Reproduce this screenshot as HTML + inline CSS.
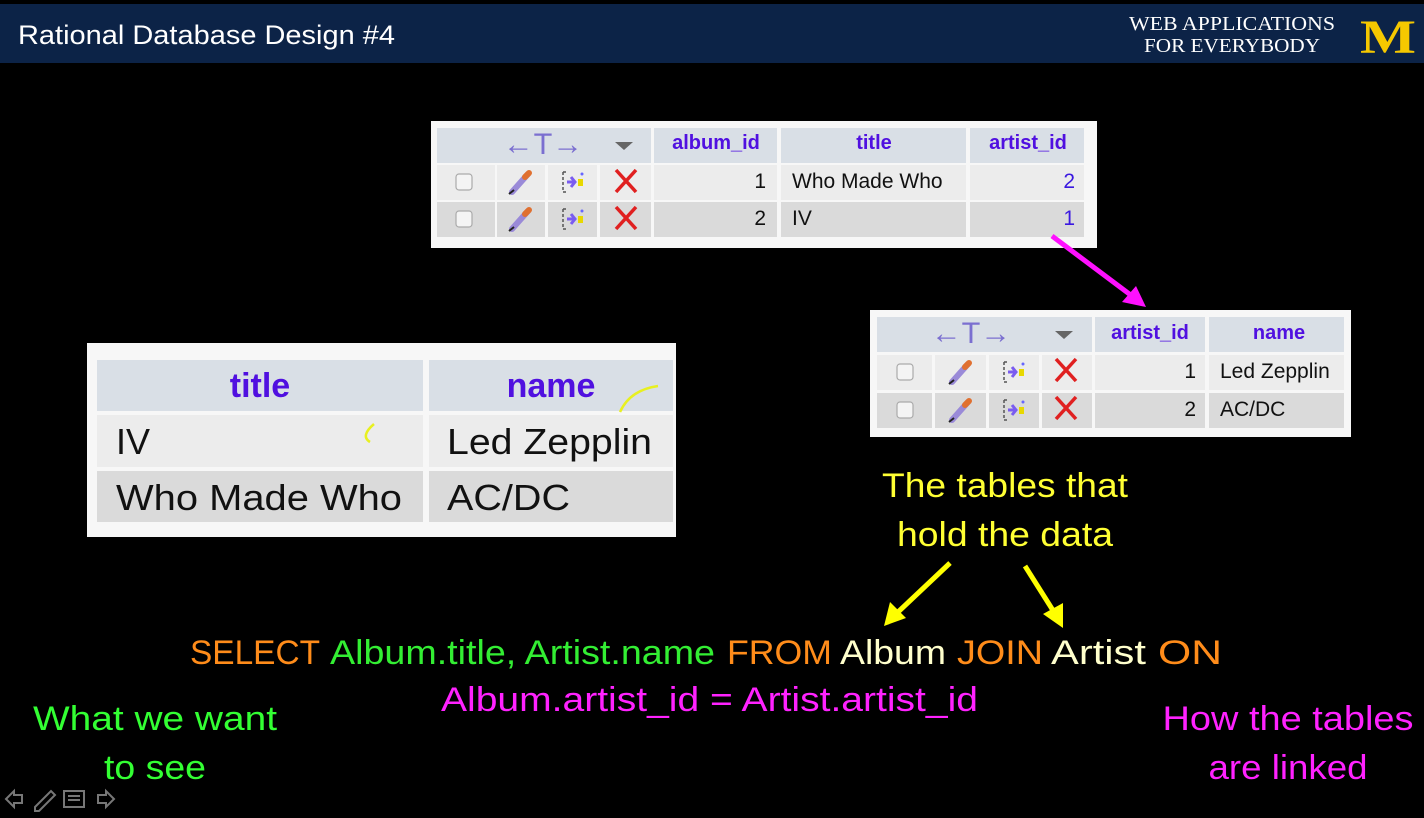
<!DOCTYPE html>
<html><head><meta charset="utf-8"><style>
html,body{margin:0;padding:0;background:#000;}
svg{display:block;}
text{font-family:"Liberation Sans",sans-serif;}
text.serif{font-family:"Liberation Serif",serif;}
</style></head><body>
<svg width="1424" height="818" viewBox="0 0 1424 818" xmlns="http://www.w3.org/2000/svg">
<defs>
<g id="cb"><rect x="-8" y="-8" width="16" height="16" rx="3" fill="#f4f4f4" stroke="#aaa" stroke-width="1.2"/></g>
<g id="pen"><line x1="-9" y1="10" x2="7" y2="-8" stroke="#9a8ad8" stroke-width="6" stroke-linecap="round"/><line x1="4" y1="-5" x2="8" y2="-9" stroke="#e07030" stroke-width="6" stroke-linecap="round"/><line x1="-12" y1="12" x2="-7" y2="8" stroke="#222" stroke-width="2"/></g>
<g id="ins"><path d="M-10,-10 h3 M-10,-10 v20 h3" stroke="#555" stroke-width="1.5" fill="none" stroke-dasharray="3,2"/><path d="M-6,0 h8 M-2,-5 l4,5 l-4,5" stroke="#7a5cf0" stroke-width="3" fill="none"/><rect x="5" y="-3" width="5" height="7" fill="#e8d800"/><circle cx="9" cy="-8" r="1.5" fill="#66f"/></g>
<g id="del"><path d="M-10,-11 L10,11 M10,-11 L-10,11" stroke="#e02020" stroke-width="3.5"/></g>
</defs>
<rect width="1424" height="818" fill="#000"/>
<!-- header -->
<rect x="0" y="4" width="1424" height="59" fill="#0c2347"/>
<text x="18" y="44" font-size="27" fill="#fff" textLength="377" lengthAdjust="spacingAndGlyphs">Rational Database Design #4</text>
<text class="serif" x="1232" y="30" font-size="20" fill="#fff" text-anchor="middle" textLength="206" lengthAdjust="spacingAndGlyphs">WEB APPLICATIONS</text>
<text class="serif" x="1232" y="52" font-size="20" fill="#fff" text-anchor="middle" textLength="176" lengthAdjust="spacingAndGlyphs">FOR EVERYBODY</text>
<text class="serif" x="1388" y="53" font-size="48" font-weight="bold" fill="#f5c800" text-anchor="middle" textLength="56" lengthAdjust="spacingAndGlyphs">M</text>

<!-- Album table -->
<rect x="431" y="121" width="666" height="127" fill="#f7f7f7"/>
<rect x="437" y="128" width="214" height="35" fill="#d9dfe6"/>
<rect x="654" y="128" width="123" height="35" fill="#d9dfe6"/>
<rect x="781" y="128" width="185" height="35" fill="#d9dfe6"/>
<rect x="970" y="128" width="114" height="35" fill="#d9dfe6"/>
<text x="543" y="154" font-size="30" fill="#7b6fd0" text-anchor="middle" textLength="80" lengthAdjust="spacingAndGlyphs">←T→</text>
<path d="M615,142 h18 l-9,8 z" fill="#666"/>
<g font-weight="bold" font-size="20" fill="#5010e0" text-anchor="middle">
<text x="716" y="149">album_id</text><text x="874" y="149">title</text><text x="1028" y="149">artist_id</text></g>
<g fill="#ececec">
<rect x="437" y="165" width="58" height="35"/><rect x="497" y="165" width="48" height="35"/><rect x="548" y="165" width="49" height="35"/><rect x="600" y="165" width="51" height="35"/><rect x="654" y="165" width="123" height="35"/><rect x="781" y="165" width="185" height="35"/><rect x="970" y="165" width="114" height="35"/></g>
<g fill="#dadada">
<rect x="437" y="202" width="58" height="35"/><rect x="497" y="202" width="48" height="35"/><rect x="548" y="202" width="49" height="35"/><rect x="600" y="202" width="51" height="35"/><rect x="654" y="202" width="123" height="35"/><rect x="781" y="202" width="185" height="35"/><rect x="970" y="202" width="114" height="35"/></g>
<use href="#cb" x="464" y="182"/><use href="#pen" x="521" y="182"/><use href="#ins" x="573" y="182"/><use href="#del" x="626" y="181"/>
<use href="#cb" x="464" y="219"/><use href="#pen" x="521" y="219"/><use href="#ins" x="573" y="219"/><use href="#del" x="626" y="218"/>
<g font-size="21" fill="#111">
<text x="766" y="188" text-anchor="end">1</text><text x="792" y="188">Who Made Who</text>
<text x="766" y="225" text-anchor="end">2</text><text x="792" y="225">IV</text></g>
<g font-size="21" fill="#3a18e0" text-anchor="end"><text x="1075" y="188">2</text><text x="1075" y="225">1</text></g>

<!-- magenta arrow -->
<line x1="1052" y1="236" x2="1132" y2="296" stroke="#ff10ff" stroke-width="5"/>
<path d="M1146,307 L1122,302 L1136,286 z" fill="#ff10ff"/>

<!-- Artist table -->
<rect x="870" y="310" width="481" height="127" fill="#f7f7f7"/>
<rect x="877" y="317" width="215" height="35" fill="#d9dfe6"/>
<rect x="1095" y="317" width="110" height="35" fill="#d9dfe6"/>
<rect x="1209" y="317" width="135" height="35" fill="#d9dfe6"/>
<text x="971" y="343" font-size="30" fill="#7b6fd0" text-anchor="middle" textLength="80" lengthAdjust="spacingAndGlyphs">←T→</text>
<path d="M1055,331 h18 l-9,8 z" fill="#666"/>
<g font-weight="bold" font-size="20" fill="#5010e0" text-anchor="middle">
<text x="1150" y="339">artist_id</text><text x="1279" y="339">name</text></g>
<g fill="#ececec">
<rect x="877" y="355" width="55" height="35"/><rect x="935" y="355" width="51" height="35"/><rect x="989" y="355" width="50" height="35"/><rect x="1042" y="355" width="50" height="35"/><rect x="1095" y="355" width="110" height="35"/><rect x="1209" y="355" width="135" height="35"/></g>
<g fill="#dadada">
<rect x="877" y="393" width="55" height="35"/><rect x="935" y="393" width="51" height="35"/><rect x="989" y="393" width="50" height="35"/><rect x="1042" y="393" width="50" height="35"/><rect x="1095" y="393" width="110" height="35"/><rect x="1209" y="393" width="135" height="35"/></g>
<use href="#cb" x="905" y="372"/><use href="#pen" x="961" y="372"/><use href="#ins" x="1014" y="372"/><use href="#del" x="1066" y="370"/>
<use href="#cb" x="905" y="410"/><use href="#pen" x="961" y="410"/><use href="#ins" x="1014" y="410"/><use href="#del" x="1066" y="408"/>
<g font-size="21" fill="#111">
<text x="1196" y="378" text-anchor="end">1</text><text x="1220" y="378">Led Zepplin</text>
<text x="1196" y="416" text-anchor="end">2</text><text x="1220" y="416">AC/DC</text></g>

<!-- Result table -->
<rect x="87" y="343" width="589" height="194" fill="#f7f7f7"/>
<rect x="97" y="360" width="326" height="51" fill="#d9dfe6"/>
<rect x="429" y="360" width="244" height="51" fill="#d9dfe6"/>
<g font-weight="bold" font-size="34" fill="#5010e0" text-anchor="middle">
<text x="260" y="397">title</text><text x="551" y="397">name</text></g>
<rect x="97" y="415" width="326" height="52" fill="#ececec"/><rect x="429" y="415" width="244" height="52" fill="#ececec"/>
<rect x="97" y="471" width="326" height="51" fill="#dadada"/><rect x="429" y="471" width="244" height="51" fill="#dadada"/>
<g font-size="36" fill="#111">
<text x="116" y="454">IV</text><text x="447" y="454" textLength="205" lengthAdjust="spacingAndGlyphs">Led Zepplin</text>
<text x="116" y="510" textLength="286" lengthAdjust="spacingAndGlyphs">Who Made Who</text><text x="447" y="510" textLength="123" lengthAdjust="spacingAndGlyphs">AC/DC</text></g>
<path d="M620,412 q10,-22 38,-26" stroke="#e8f020" stroke-width="2.5" fill="none"/>
<path d="M374,424 q-14,12 -4,18" stroke="#e8f020" stroke-width="2.5" fill="none"/>

<!-- yellow label -->
<g font-size="34" fill="#ffff33" text-anchor="middle">
<text x="1005" y="497" textLength="246" lengthAdjust="spacingAndGlyphs">The tables that</text><text x="1005" y="546" textLength="216" lengthAdjust="spacingAndGlyphs">hold the data</text></g>
<line x1="950" y1="563" x2="897" y2="613" stroke="#ffff00" stroke-width="5"/>
<path d="M884,626 L890,602 L906,618 z" fill="#ffff00"/>
<line x1="1025" y1="566" x2="1054" y2="612" stroke="#ffff00" stroke-width="5"/>
<path d="M1063,628 L1043,614 L1063,603 z" fill="#ffff00"/>

<!-- SQL -->
<g font-size="34">
<text x="190" y="664" fill="#ff8c1a" textLength="130" lengthAdjust="spacingAndGlyphs">SELECT</text>
<text x="330" y="664" fill="#33ee33" textLength="385" lengthAdjust="spacingAndGlyphs">Album.title, Artist.name</text>
<text x="727" y="664" fill="#ff8c1a" textLength="105" lengthAdjust="spacingAndGlyphs">FROM</text>
<text x="840" y="664" fill="#ffffcc" textLength="106" lengthAdjust="spacingAndGlyphs">Album</text>
<text x="957" y="664" fill="#ff8c1a" textLength="86" lengthAdjust="spacingAndGlyphs">JOIN</text>
<text x="1051" y="664" fill="#ffffcc" textLength="95" lengthAdjust="spacingAndGlyphs">Artist</text>
<text x="1158" y="664" fill="#ff8c1a" textLength="64" lengthAdjust="spacingAndGlyphs">ON</text>
<text x="441" y="711" fill="#ff22ff" textLength="537" lengthAdjust="spacingAndGlyphs">Album.artist_id = Artist.artist_id</text>
</g>
<g font-size="34" fill="#33ff33" text-anchor="middle">
<text x="155" y="730" textLength="244" lengthAdjust="spacingAndGlyphs">What we want</text><text x="155" y="779" textLength="102" lengthAdjust="spacingAndGlyphs">to see</text></g>
<g font-size="34" fill="#ff22ff" text-anchor="middle">
<text x="1288" y="730" textLength="251" lengthAdjust="spacingAndGlyphs">How the tables</text><text x="1288" y="779" textLength="159" lengthAdjust="spacingAndGlyphs">are linked</text></g>

<!-- bottom controls -->
<g stroke="#777" stroke-width="2" fill="none">
<path d="M6,799 l8,-8 v4 h8 v8 h-8 v4 z"/>
<path d="M35,807 l16,-16 l4,4 l-16,16 h-4 z"/>
<rect x="64" y="791" width="20" height="16"/><path d="M68,796 h12 M68,800 h12"/>
<path d="M114,799 l-8,-8 v4 h-8 v8 h8 v4 z"/>
</g>
</svg>
</body></html>
